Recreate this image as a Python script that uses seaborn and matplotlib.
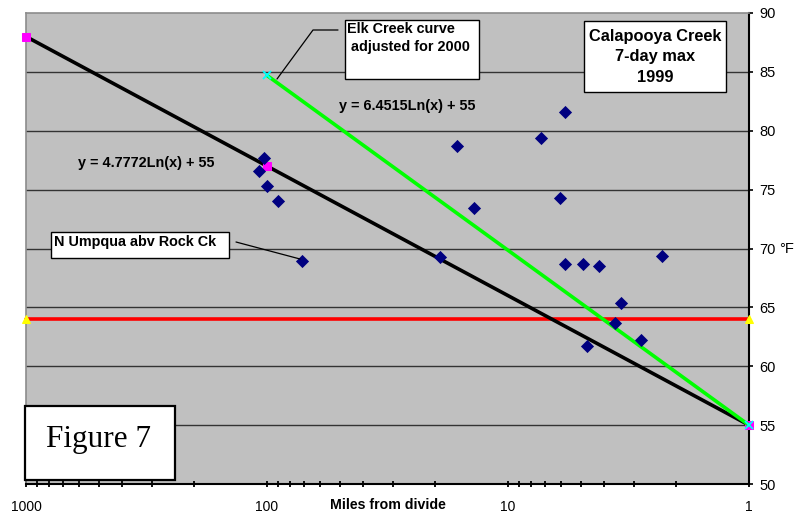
import numpy as np
import pandas as pd
import matplotlib
matplotlib.use("Agg")
import matplotlib.pyplot as plt
import matplotlib.patches as mpatches
import matplotlib.ticker as mticker
import seaborn as sns

# Observed 7-day maximum temperatures (°F) vs. distance from the divide (miles)
miles = [108, 103, 100, 90, 71.6, 19.1, 16.3, 13.9, 7.3, 6.1, 5.8, 5.8,
         4.9, 4.2, 4.7, 3.6, 3.4, 2.8, 2.3]
temps = [76.6, 77.7, 75.3, 74.0, 68.9, 69.3, 78.7, 73.4, 79.4, 74.3, 81.6, 68.7,
         68.7, 68.5, 61.7, 63.7, 65.4, 62.2, 69.4]

# Log trend curves anchored at 55 °F at the divide
calapooya_x = [1000, 100, 1]
calapooya_y = [88.0, 77.0, 55.0]
elk_x = [100, 1]
elk_y = [84.7, 55.0]

# Temperature standard
std_x = [1000, 1]
std_y = [64, 64]

y_ticks = [50, 55, 60, 65, 70, 75, 80, 85, 90]
x_ticks = [1000, 100, 10, 1]

W, H = 807, 514
sns.set_theme(style="white")
plt.rcParams["font.family"] = ["Liberation Sans", "DejaVu Sans"]
plt.rcParams["text.color"] = "black"
plt.rcParams["xtick.color"] = "black"
plt.rcParams["ytick.color"] = "black"
plt.rcParams["xtick.labelcolor"] = "black"
plt.rcParams["ytick.labelcolor"] = "black"

fig = plt.figure(figsize=(W / 100, H / 100), dpi=100)
ax = fig.add_axes([26 / W, 1 - 484 / H, (749 - 26) / W, (484 - 13) / H])
ax.set_facecolor("#C0C0C0")

ax.set_xscale("log")
ax.set_xlim(1000, 1)
ax.set_ylim(50, 90)

# horizontal gridlines
for v in y_ticks[1:-1]:
    ax.axhline(v, color="#333333", lw=1.0, zorder=1)

pts = pd.DataFrame({"miles": miles, "temp": temps})
sns.scatterplot(data=pts, x="miles", y="temp", marker="D", s=45,
                color="#000080", edgecolor="#000080", linewidth=0, ax=ax, zorder=5)

std = pd.DataFrame({"x": std_x, "y": std_y})
sns.lineplot(data=std, x="x", y="y", color="#FF0000", lw=2.6, marker="^",
             markersize=6, markerfacecolor="#FFFF00", markeredgecolor="#FFFF00",
             ax=ax, zorder=3, clip_on=False)

cal = pd.DataFrame({"x": calapooya_x, "y": calapooya_y})
sns.lineplot(data=cal, x="x", y="y", color="black", lw=2.6, marker="s",
             markersize=6, markerfacecolor="#FF00FF", markeredgecolor="#FF00FF",
             ax=ax, zorder=4, clip_on=False)

elk = pd.DataFrame({"x": elk_x, "y": elk_y})
sns.lineplot(data=elk, x="x", y="y", color="#00FF00", lw=2.6, marker="x",
             markersize=6, markeredgecolor="#00FFFF", markeredgewidth=1.3,
             ax=ax, zorder=4, clip_on=False)

ax.set_xlabel("")
ax.set_ylabel("")

# axes styling
ax.yaxis.tick_right()
ax.set_yticks(y_ticks)
ax.set_yticklabels([str(v) for v in y_ticks])
ax.tick_params(axis="y", which="both", direction="out", length=3, width=1.2,
               color="black", labelsize=10.5, pad=4.5, right=True, left=False)
ax.set_xticks(x_ticks)
ax.set_xticklabels([str(v) for v in x_ticks])
ax.xaxis.set_minor_locator(mticker.LogLocator(base=10, subs=np.arange(2, 10)))
ax.xaxis.set_minor_formatter(mticker.NullFormatter())
ax.tick_params(axis="x", which="both", direction="inout", length=5, width=1.3,
               color="black", labelsize=10, pad=9, bottom=True)

for side in ["left", "top"]:
    ax.spines[side].set_color("#8C8C8C")
    ax.spines[side].set_linewidth(1.2)
for side in ["right", "bottom"]:
    ax.spines[side].set_color("black")
    ax.spines[side].set_linewidth(1.5)


def fx(px):
    return px / W


def fy(py):
    return 1 - py / H


def box(x0, y0, x1, y1, lw=1.0):
    fig.add_artist(mpatches.Rectangle((fx(x0), fy(y1)), fx(x1) - fx(x0),
                                      fy(y0) - fy(y1), transform=fig.transFigure,
                                      facecolor="white", edgecolor="black",
                                      lw=lw, zorder=10))


def line(xs, ys, lw=0.9):
    fig.add_artist(plt.Line2D([fx(v) for v in xs], [fy(v) for v in ys],
                              transform=fig.transFigure, color="black",
                              lw=lw, zorder=9))


# Elk Creek label with leader
line([338, 313, 277], [30, 30, 79])
box(345, 20, 479, 79)
fig.text(fx(347), fy(29), "Elk Creek curve", fontsize=10.4, fontweight="bold",
         ha="left", va="center", zorder=11)
fig.text(fx(347), fy(47), " adjusted for 2000", fontsize=10.4, fontweight="bold",
         ha="left", va="center", zorder=11)

# Title box
box(584, 21, 726, 92)
for txt, yy in [("Calapooya Creek", 36), ("7-day max", 57), ("1999", 78)]:
    fig.text(fx(655), fy(yy), txt, fontsize=11.8, fontweight="bold",
             ha="center", va="center", zorder=11)

# Trend equations
fig.text(fx(407), fy(106), "y = 6.4515Ln(x) + 55", fontsize=10.4,
         fontweight="bold", ha="center", va="center")
fig.text(fx(146), fy(163), "y = 4.7772Ln(x) + 55", fontsize=10.4,
         fontweight="bold", ha="center", va="center")

# N Umpqua label with leader
line([236, 300], [242, 259])
box(51, 232, 229, 258)
fig.text(fx(54), fy(242), "N Umpqua abv Rock Ck", fontsize=10.4,
         fontweight="bold", ha="left", va="center", zorder=11)

# Figure number box
box(25, 406, 175, 480, lw=1.6)
fig.text(fx(99), fy(440), "Figure 7", fontsize=22.5,
         family=["Liberation Serif", "DejaVu Serif"], ha="center", va="center",
         zorder=11)

# axis titles
fig.text(fx(388), fy(505), "Miles from divide", fontsize=10.2, fontweight="bold",
         ha="center", va="center")
fig.text(fx(779), fy(249), "°F", fontsize=10.5, ha="left", va="center")

fig.savefig("out.png", dpi=100)
